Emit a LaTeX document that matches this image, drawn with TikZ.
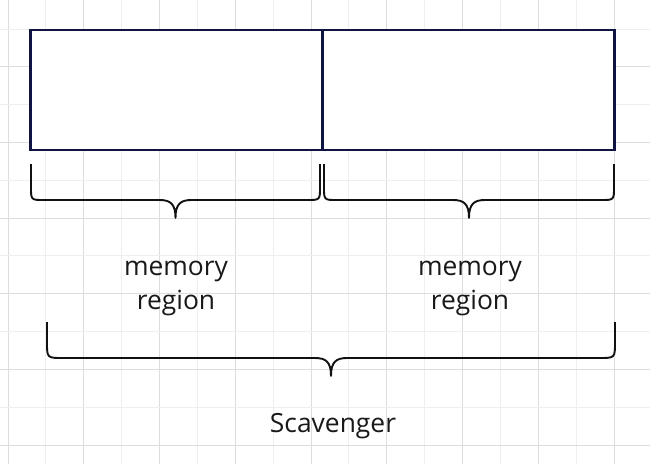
\documentclass[tikz,border=0pt]{standalone}
\usepackage{fontspec}
\setmainfont{Open Sans}
\usetikzlibrary{positioning}

\definecolor{gridlight}{RGB}{239,239,239}
\definecolor{griddark}{RGB}{221,221,221}
\definecolor{cellborder}{RGB}{16,20,66}
\definecolor{bracecol}{RGB}{17,17,17}

% curly brace: #1 left x, #2 right x, #3 top y, #4 bar y, #5 tip y, #6 corner radius
\newcommand{\curlybrace}[6]{%
  \pgfmathsetmacro{\bmid}{(#1+#2)/2}
  \draw[brace] (#1,#3) -- (#1,#4-#6) .. controls (#1,#4) .. (#1+#6,#4)
    -- (\bmid-16,#4) .. controls (\bmid-5,#4) and (\bmid,#4+4) .. (\bmid,#5)
    .. controls (\bmid,#4+4) and (\bmid+5,#4) .. (\bmid+16,#4)
    -- (#2-#6,#4) .. controls (#2,#4) .. (#2,#4-#6) -- (#2,#3);
}

\begin{document}
\begin{tikzpicture}[x=1pt, y=-1pt,
  gridline/.style={line width=1pt},
  cell/.style={draw=cellborder, line width=2.1pt, fill=white,
               minimum width=292pt, minimum height=120pt,
               inner sep=0pt, outer sep=0pt},
  brace/.style={draw=bracecol, line width=1.9pt, line join=round},
  captiontext/.style={align=center, inner sep=0pt,
                      font=\fontsize{26.4}{34}\selectfont, text=black!90}
]
  % page and background grid
  \useasboundingbox (0,0) rectangle (650,464);
  \fill[white] (0,0) rectangle (650,464);
  \foreach \k in {0,...,16} {
    \pgfmathsetmacro{\gx}{8+37.875*\k}
    \ifodd\k \def\gcol{gridlight}\else \def\gcol{griddark}\fi
    \draw[gridline, draw=\gcol] (\gx,0) -- (\gx,464);
  }
  \foreach \k in {0,...,11} {
    \pgfmathsetmacro{\gy}{29+37.82*\k}
    \ifodd\k \def\gcol{griddark}\else \def\gcol{gridlight}\fi
    \draw[gridline, draw=\gcol] (0,\gy) -- (650,\gy);
  }

  % the two memory cells
  \node[cell] (leftcell) at (176.5,89.6) {};
  \node[cell, right=0pt of leftcell] (rightcell) {};

  % braces under each cell and under both
  \curlybrace{31}{320}{164}{200}{218}{13}
  \curlybrace{324}{614}{164}{200}{218}{13}
  \curlybrace{47}{615}{322}{358}{376}{16}

  % texts
  \node[captiontext] (memleft) at (176,288) {memory\\region};
  \node[captiontext] (memright) at (470,288) {memory\\region};
  \node[captiontext] (scavenger) at (333,426) {Scavenger};

\end{tikzpicture}
\end{document}
